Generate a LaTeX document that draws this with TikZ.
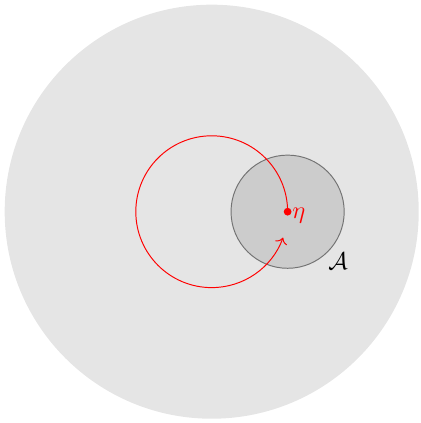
\documentclass[tikz,border=0pt]{standalone}
\usepackage{amsmath,amssymb}
\usetikzlibrary{positioning,arrows.meta}
\begin{document}
\begin{tikzpicture}[
  space/.style={circle,fill=black!10,inner sep=0pt,minimum size=6cm},
  setA/.style={circle,draw=black!55,fill=black!20,inner sep=0pt,minimum size=1.64cm},
  pt/.style={circle,fill=red,inner sep=0pt,minimum size=3.2pt},
  loopar/.style={red,->}]
\useasboundingbox (-3.068,-3.062) rectangle (3.019,3.068);
% ambient space and the set A
\node[space] (omega) at (0,0) {};
\node[setA] (A) at (1.1,0) {};
\node (Alabel) at (1.83,-0.72) {$\mathcal{A}$};
% the point eta and its loop
\node[pt] (eta) at (1.1,0) {};
\node[text=red,inner sep=0pt,anchor=base west] (etalabel) at ([xshift=1.8pt,yshift=-2.7pt]eta.center) {$\eta$};
\draw[loopar] (eta.center) arc[start angle=0,end angle=340,radius=1.1];
\end{tikzpicture}
\end{document}
